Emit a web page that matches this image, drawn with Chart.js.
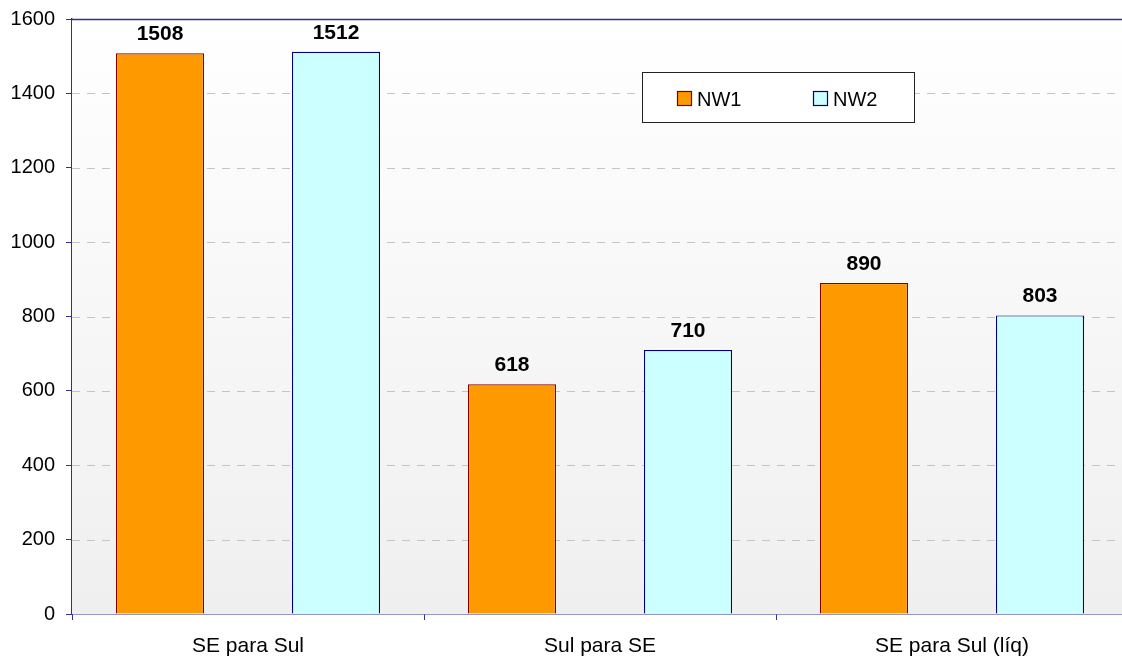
<!DOCTYPE html>
<html>
<head>
<meta charset="utf-8">
<script src="https://cdn.jsdelivr.net/npm/chart.js@4/dist/chart.umd.min.js"></script>
<style>
  html, body { margin: 0; padding: 0; background: #ffffff; overflow: hidden; }
  #wrap { width: 1128px; height: 657px; }
</style>
</head>
<body>
<div id="wrap"><canvas id="c" width="1128" height="657"></canvas></div>
<script>
// Interchange limits by direction
const categories = ['SE para Sul', 'Sul para SE', 'SE para Sul (líq)'];
const seriesNames = ['NW1', 'NW2'];
const nw1Values = [1508, 618, 890];
const nw2Values = [1512, 710, 803];
const yMin = 0;
const yMax = 1600;
const yStep = 200;

const FONT = '"Liberation Sans", Arial, sans-serif';
const NAVY = '#2f2f94';

// Soft vertical gradient behind the plot area, dashed horizontal guides
const plotBackground = {
  id: 'plotBackground',
  beforeDatasetsDraw(chart) {
    const { ctx, chartArea: a, scales } = chart;
    ctx.save();
    const g = ctx.createLinearGradient(0, a.top, 0, a.bottom);
    g.addColorStop(0, '#ffffff');
    g.addColorStop(1, '#efefef');
    ctx.fillStyle = g;
    ctx.fillRect(a.left, a.top, a.right - a.left, a.bottom - a.top);
    ctx.strokeStyle = '#c4c4c4';
    ctx.lineWidth = 1;
    ctx.setLineDash([8, 7]);
    scales.y.ticks.forEach(t => {
      if (t.value <= yMin || t.value >= yMax) return;
      const y = Math.round(scales.y.getPixelForValue(t.value)) + 0.5;
      ctx.beginPath();
      ctx.moveTo(a.left, y);
      ctx.lineTo(a.right, y);
      ctx.stroke();
    });
    ctx.restore();
  }
};

// Value labels above bars, top frame line and the legend box
const decorations = {
  id: 'decorations',
  afterDatasetsDraw(chart) {
    const { ctx, chartArea: a } = chart;
    ctx.save();
    // top frame line
    ctx.strokeStyle = NAVY;
    ctx.lineWidth = 1.4;
    ctx.beginPath();
    ctx.moveTo(a.left, a.top + 0.5);
    ctx.lineTo(a.right, a.top + 0.5);
    ctx.stroke();

    // value labels
    ctx.fillStyle = '#000000';
    ctx.font = 'bold 21px ' + FONT;
    ctx.textAlign = 'center';
    ctx.textBaseline = 'alphabetic';
    chart.data.datasets.forEach((ds, di) => {
      const meta = chart.getDatasetMeta(di);
      meta.data.forEach((bar, i) => {
        ctx.fillText(String(ds.data[i]), bar.x, bar.y - 13);
      });
    });

    // legend
    const lx = a.left + 570, ly = a.top + 53, lw = 272, lh = 50;
    ctx.fillStyle = '#ffffff';
    ctx.fillRect(lx, ly, lw, lh);
    ctx.strokeStyle = '#222222';
    ctx.lineWidth = 1;
    ctx.strokeRect(lx + 0.5, ly + 0.5, lw, lh);
    ctx.font = '20px ' + FONT;
    ctx.textAlign = 'left';
    const offsets = [35, 171];
    chart.data.datasets.forEach((ds, di) => {
      const sx = lx + offsets[di];
      const sy = ly + 19;
      ctx.fillStyle = ds.backgroundColor;
      ctx.fillRect(sx, sy, 14, 14);
      ctx.strokeStyle = ds.borderColor;
      ctx.lineWidth = 1.2;
      ctx.strokeRect(sx + 0.5, sy + 0.5, 14, 14);
      ctx.fillStyle = '#000000';
      ctx.fillText(ds.label, sx + 20, sy + 15);
    });
    ctx.restore();
  }
};

new Chart(document.getElementById('c'), {
  type: 'bar',
  data: {
    labels: categories,
    datasets: [
      {
        label: seriesNames[0],
        data: nw1Values,
        backgroundColor: '#ff9900',
        borderColor: '#800000',
        borderWidth: 1.2,
        categoryPercentage: 1.0,
        barPercentage: 0.5
      },
      {
        label: seriesNames[1],
        data: nw2Values,
        backgroundColor: '#ccffff',
        borderColor: '#000080',
        borderWidth: 1.2,
        categoryPercentage: 1.0,
        barPercentage: 0.5
      }
    ]
  },
  options: {
    responsive: false,
    animation: false,
    devicePixelRatio: 1,
    layout: { padding: { top: 19, left: 0, right: 0, bottom: 0 } },
    plugins: {
      legend: { display: false },
      tooltip: { enabled: false }
    },
    scales: {
      x: {
        offset: true,
        grid: {
          offset: true,
          drawOnChartArea: false,
          drawTicks: true,
          tickLength: 6,
          tickColor: NAVY,
          color: NAVY
        },
        border: { display: true, color: NAVY, width: 1.4 },
        ticks: {
          color: '#000000',
          font: { family: FONT, size: 21 },
          padding: 14,
          maxRotation: 0
        },
        afterFit(scale) { scale.height = 43; scale.paddingLeft = 0; scale.paddingRight = 0; }
      },
      y: {
        min: yMin,
        max: yMax,
        grid: {
          drawOnChartArea: false,
          drawTicks: true,
          tickLength: 6,
          tickColor: NAVY,
          color: NAVY
        },
        border: { display: true, color: NAVY, width: 1.4 },
        ticks: {
          stepSize: yStep,
          color: '#000000',
          font: { family: FONT, size: 20 },
          padding: 11,
          callback: (v) => String(v)
        },
        afterFit(scale) { scale.width = 72; scale.paddingTop = 0; scale.paddingBottom = 0; }
      }
    }
  },
  plugins: [plotBackground, decorations]
});
</script>
</body>
</html>
